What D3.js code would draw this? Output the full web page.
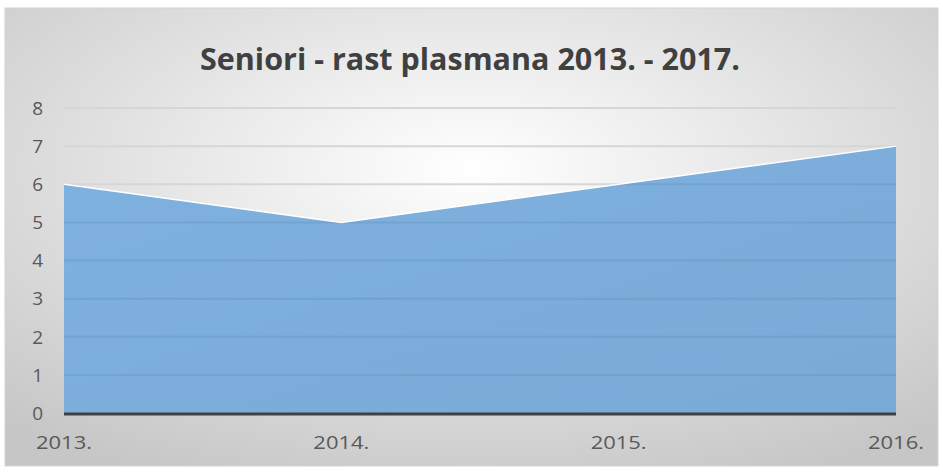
<!DOCTYPE html>
<html>
<head>
    <meta charset="utf-8">
    <title>Seniori - rast plasmana</title>
    <script src="https://d3js.org/d3.v7.min.js"></script>
    <style>
        body { margin: 0; background: #fff; }
        text { font-family: "Open Sans", "Liberation Sans", sans-serif; }
    </style>
</head>
<body>
    <div id="chart"></div>
    <script>
        // podaci
        const years = ["2013.", "2014.", "2015.", "2016."];
        const values = [6, 5, 6, 7];
        const yTicks = [0, 1, 2, 3, 4, 5, 6, 7, 8];
        const title = "Seniori - rast plasmana 2013. - 2017.";

        const width = 943, height = 472;
        const margin = { left: 64, right: 47, top: 108, bottom: 59 };

        const svg = d3.select("#chart").append("svg")
            .attr("width", width)
            .attr("height", height);

        const defs = svg.append("defs");
        const bg = defs.append("radialGradient")
            .attr("id", "bg").attr("cx", "50%").attr("cy", "35%").attr("r", "75%");
        bg.append("stop").attr("offset", "0%").attr("stop-color", "#ffffff");
        bg.append("stop").attr("offset", "100%").attr("stop-color", "#c6c6c6");

        const fill = defs.append("linearGradient")
            .attr("id", "fill").attr("x1", 0).attr("y1", 0).attr("x2", 1).attr("y2", 1);
        fill.append("stop").attr("offset", "0%").attr("stop-color", "#7fb1e0");
        fill.append("stop").attr("offset", "100%").attr("stop-color", "#7aaad6");

        const x = d3.scalePoint()
            .domain(years)
            .range([margin.left, width - margin.right]);

        const y = d3.scaleLinear()
            .domain([0, 8])
            .range([height - margin.bottom, margin.top]);

        const area = d3.area()
            .x((d, i) => x(years[i]))
            .y0(y(0))
            .y1(d => y(d));

        defs.append("clipPath").attr("id", "clip")
            .append("path").datum(values).attr("d", area);

        // okvir
        svg.append("rect")
            .attr("x", 5).attr("y", 8)
            .attr("width", 933).attr("height", 458)
            .attr("fill", "url(#bg)")
            .attr("stroke", "#d4d4d4");

        // mreža
        svg.append("g")
            .selectAll("line")
            .data(yTicks.slice(1))
            .join("line")
            .attr("x1", margin.left).attr("x2", width - margin.right)
            .attr("y1", d => y(d)).attr("y2", d => y(d))
            .attr("stroke", "#d6d6d6").attr("stroke-width", 2);

        // površina
        svg.append("path")
            .datum(values)
            .attr("d", area)
            .attr("fill", "url(#fill)");

        // mreža preko površine
        svg.append("g")
            .attr("clip-path", "url(#clip)")
            .selectAll("line")
            .data(yTicks.slice(1))
            .join("line")
            .attr("x1", margin.left).attr("x2", width - margin.right)
            .attr("y1", d => y(d)).attr("y2", d => y(d))
            .attr("stroke", "rgba(60,100,150,0.15)").attr("stroke-width", 2);

        // bijeli rub
        svg.append("path")
            .datum(values)
            .attr("d", d3.line().x((d, i) => x(years[i])).y(d => y(d)))
            .attr("fill", "none")
            .attr("stroke", "#ffffff")
            .attr("stroke-width", 1.5);

        // os x
        svg.append("line")
            .attr("x1", margin.left).attr("x2", width - margin.right)
            .attr("y1", y(0) + 1).attr("y2", y(0) + 1)
            .attr("stroke", "#404040").attr("stroke-width", 3);

        svg.append("g")
            .selectAll("text")
            .data(yTicks)
            .join("text")
            .attr("x", 43)
            .attr("y", d => y(d))
            .attr("dy", "0.36em")
            .attr("text-anchor", "end")
            .attr("fill", "#595959")
            .attr("font-size", 19)
            .text(d => d);

        svg.append("g")
            .selectAll("text")
            .data(years)
            .join("text")
            .attr("x", d => x(d))
            .attr("y", 449)
            .attr("text-anchor", "middle")
            .attr("fill", "#595959")
            .attr("font-size", 18)
            .attr("textLength", 56)
            .attr("lengthAdjust", "spacingAndGlyphs")
            .text(d => d);

        svg.append("text")
            .attr("x", 470)
            .attr("y", 70)
            .attr("text-anchor", "middle")
            .attr("fill", "#404040")
            .attr("font-size", 31)
            .attr("font-weight", "bold")
            .attr("textLength", 540)
            .attr("lengthAdjust", "spacingAndGlyphs")
            .text(title);
    </script>
</body>
</html>
